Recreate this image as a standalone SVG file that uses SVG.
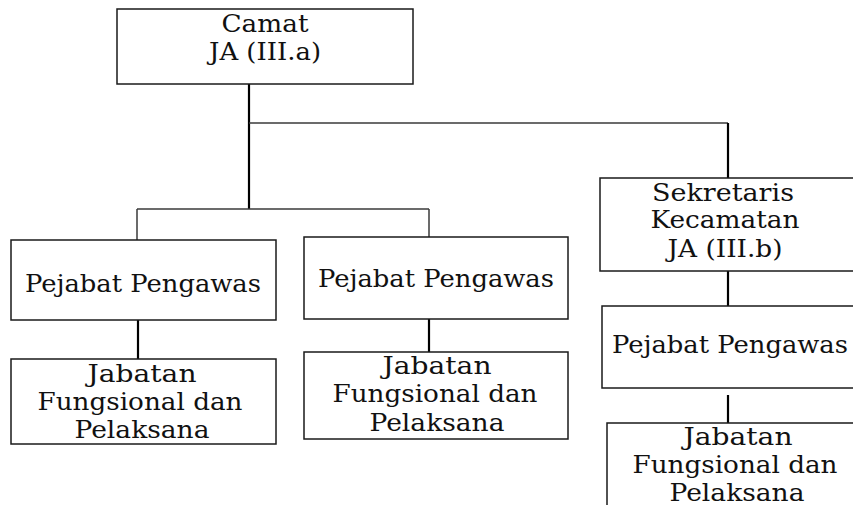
<svg xmlns="http://www.w3.org/2000/svg" width="853" height="505" viewBox="0 0 853 505">
  <style>
    .box { fill: #ffffff; stroke: #1a1a1a; stroke-width: 1.5; }
    .lbl { font-family: "DejaVu Serif", "Liberation Serif", serif; font-size: 24px; fill: #111111; text-anchor: middle; }
    .thick { stroke: #000000; stroke-width: 2.2; fill: none; }
    .thin { stroke: #3a3a3a; stroke-width: 1.5; fill: none; }
  </style>
  <rect width="853" height="505" fill="#ffffff"/>

  <!-- connectors -->
  <g id="connectors">
    <path class="thick" d="M249 84 V209"/>
    <path class="thin" d="M249 123 H728"/>
    <path class="thick" d="M728 123 V178"/>
    <path class="thin" d="M137 209 H429"/>
    <path class="thin" d="M137 209 V240"/>
    <path class="thin" d="M429 209 V237"/>
    <path class="thick" d="M138 320 V359"/>
    <path class="thick" d="M429 319 V352"/>
    <path class="thick" d="M728 271 V306"/>
    <path class="thick" d="M728 395 V423"/>
  </g>

  <!-- Camat -->
  <g id="camat">
    <rect class="box" x="117" y="9" width="296" height="75"/>
    <text class="lbl" x="265" y="32" textLength="87" lengthAdjust="spacingAndGlyphs">Camat</text>
    <text class="lbl" x="265" y="60" textLength="112" lengthAdjust="spacingAndGlyphs">JA (III.a)</text>
  </g>

  <!-- Sekretaris Kecamatan -->
  <g id="sekretaris">
    <rect class="box" x="600" y="178" width="260" height="93"/>
    <text class="lbl" x="723" y="201" textLength="142" lengthAdjust="spacingAndGlyphs">Sekretaris</text>
    <text class="lbl" x="725" y="228" textLength="149" lengthAdjust="spacingAndGlyphs">Kecamatan</text>
    <text class="lbl" x="725" y="257" textLength="115" lengthAdjust="spacingAndGlyphs">JA (III.b)</text>
  </g>

  <!-- Pejabat Pengawas (left) -->
  <g id="pengawas-1">
    <rect class="box" x="11" y="240" width="265" height="80"/>
    <text class="lbl" x="143" y="292" textLength="236" lengthAdjust="spacingAndGlyphs">Pejabat Pengawas</text>
  </g>

  <!-- Pejabat Pengawas (middle) -->
  <g id="pengawas-2">
    <rect class="box" x="304" y="237" width="264" height="82"/>
    <text class="lbl" x="436" y="287" textLength="236" lengthAdjust="spacingAndGlyphs">Pejabat Pengawas</text>
  </g>

  <!-- Pejabat Pengawas (right) -->
  <g id="pengawas-3">
    <rect class="box" x="602" y="306" width="260" height="82"/>
    <text class="lbl" x="730" y="353" textLength="236" lengthAdjust="spacingAndGlyphs">Pejabat Pengawas</text>
  </g>

  <!-- Jabatan Fungsional dan Pelaksana (left) -->
  <g id="fungsional-1">
    <rect class="box" x="11" y="359" width="265" height="85"/>
    <text class="lbl" x="142" y="382" textLength="109" lengthAdjust="spacingAndGlyphs">Jabatan</text>
    <text class="lbl" x="140" y="410" textLength="205" lengthAdjust="spacingAndGlyphs">Fungsional dan</text>
    <text class="lbl" x="142" y="438" textLength="135" lengthAdjust="spacingAndGlyphs">Pelaksana</text>
  </g>

  <!-- Jabatan Fungsional dan Pelaksana (middle) -->
  <g id="fungsional-2">
    <rect class="box" x="304" y="352" width="264" height="87"/>
    <text class="lbl" x="437" y="374" textLength="109" lengthAdjust="spacingAndGlyphs">Jabatan</text>
    <text class="lbl" x="435" y="402" textLength="205" lengthAdjust="spacingAndGlyphs">Fungsional dan</text>
    <text class="lbl" x="437" y="431" textLength="135" lengthAdjust="spacingAndGlyphs">Pelaksana</text>
  </g>

  <!-- Jabatan Fungsional dan Pelaksana (right) -->
  <g id="fungsional-3">
    <rect class="box" x="607" y="423" width="260" height="100"/>
    <text class="lbl" x="738" y="445" textLength="109" lengthAdjust="spacingAndGlyphs">Jabatan</text>
    <text class="lbl" x="735" y="473" textLength="205" lengthAdjust="spacingAndGlyphs">Fungsional dan</text>
    <text class="lbl" x="737" y="501" textLength="135" lengthAdjust="spacingAndGlyphs">Pelaksana</text>
  </g>
</svg>
